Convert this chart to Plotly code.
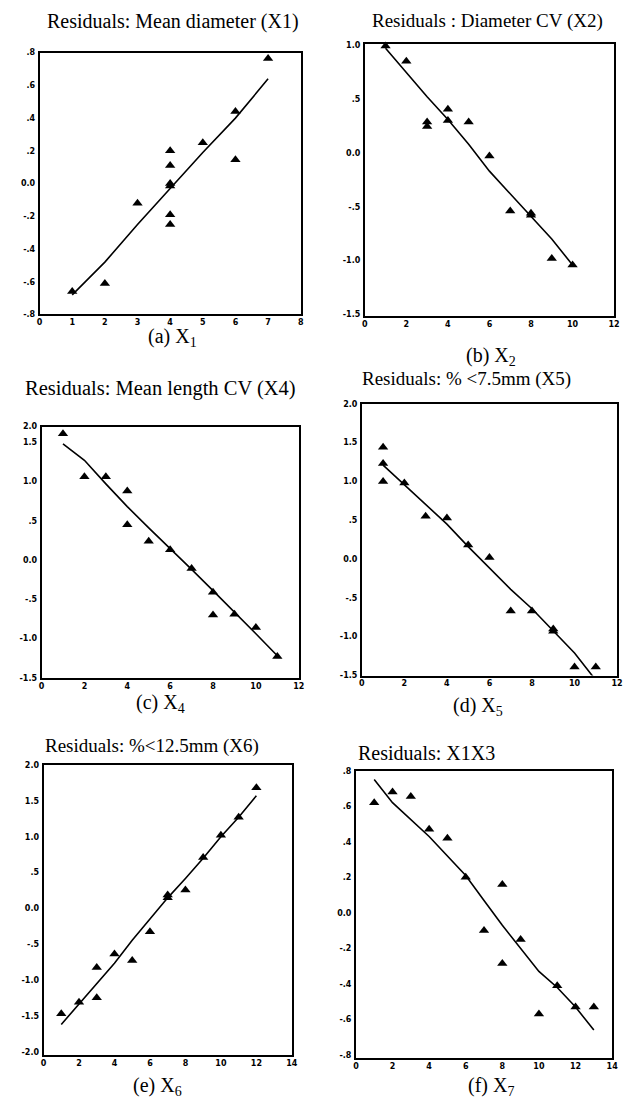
import plotly.graph_objects as go

# The page body has an 8px margin, so the figure is drawn 8px in from the window edge.
OFF = 8
W, H = 635 - 2 * OFF, 1112 - 2 * OFF

# ---------------- data ----------------
# (a) Residuals: Mean diameter (X1)
a_x = [1, 2, 3, 4, 4, 4, 4, 4, 4, 5, 6, 6, 7]
a_y = [-0.66, -0.61, -0.12, 0.20, 0.11, 0.0, -0.015, -0.19, -0.25, 0.25, 0.44, 0.145, 0.765]
a_fit_x = [1, 2, 3, 4, 5, 6, 7]
a_fit_y = [-0.68, -0.48, -0.25, -0.03, 0.19, 0.40, 0.64]

# (b) Residuals : Diameter CV (X2)
b_x = [1, 2, 3, 3, 4, 4, 5, 6, 7, 8, 8, 9, 10]
b_y = [0.99, 0.85, 0.285, 0.245, 0.405, 0.30, 0.285, -0.03, -0.54, -0.56, -0.58, -0.98, -1.04]
b_fit_x = [1, 2, 3, 4, 5, 6, 7, 8, 9, 10]
b_fit_y = [0.97, 0.74, 0.52, 0.31, 0.08, -0.17, -0.38, -0.58, -0.80, -1.04]

# (c) Residuals: Mean length CV (X4)
c_x = [1, 2, 3, 4, 4, 5, 6, 7, 8, 8, 9, 10, 11]
c_y = [1.61, 1.06, 1.06, 0.88, 0.45, 0.24, 0.13, -0.11, -0.41, -0.70, -0.69, -0.86, -1.23]
c_fit_x = [1, 2, 3, 4, 5, 6, 7, 8, 9, 10, 11]
c_fit_y = [1.48, 1.27, 0.97, 0.68, 0.41, 0.15, -0.12, -0.39, -0.66, -0.94, -1.22]

# (d) Residuals: % <7.5mm (X5)
d_x = [1, 1, 1, 2, 3, 4, 5, 6, 7, 8, 9, 9, 10, 11]
d_y = [1.44, 1.23, 1.00, 0.98, 0.55, 0.53, 0.18, 0.02, -0.67, -0.67, -0.90, -0.93, -1.39, -1.39]
d_fit_x = [1, 2, 3, 4, 5, 6, 7, 8, 9, 10, 11]
d_fit_y = [1.21, 0.96, 0.70, 0.45, 0.16, -0.12, -0.39, -0.64, -0.92, -1.21, -1.56]

# (e) Residuals: %<12.5mm (X6)
e_x = [1, 2, 3, 3, 4, 5, 6, 7, 7, 8, 9, 10, 11, 12]
e_y = [-1.46, -1.30, -0.82, -1.24, -0.63, -0.72, -0.32, 0.15, 0.19, 0.26, 0.71, 1.02, 1.27, 1.68]
e_fit_x = [1, 2, 3, 4, 5, 6, 7, 8, 9, 10, 11, 12]
e_fit_y = [-1.61, -1.33, -1.04, -0.76, -0.44, -0.15, 0.15, 0.42, 0.70, 1.00, 1.27, 1.57]

# (f) Residuals: X1X3
f_x = [1, 2, 3, 4, 5, 6, 7, 8, 8, 9, 10, 11, 12, 13]
f_y = [0.62, 0.68, 0.655, 0.47, 0.42, 0.20, -0.10, 0.16, -0.285, -0.15, -0.57, -0.41, -0.53, -0.53]
f_fit_x = [1, 2, 4, 6, 7, 8, 10, 11, 12, 13]
f_fit_y = [0.75, 0.62, 0.43, 0.21, 0.07, -0.07, -0.33, -0.42, -0.53, -0.66]

titles = ["Residuals: Mean diameter (X1)", "Residuals : Diameter CV (X2)",
          "Residuals: Mean length CV (X4)", "Residuals: % <7.5mm (X5)",
          "Residuals: %<12.5mm (X6)", "Residuals: X1X3"]
captions = ["(a) X<sub>1</sub>", "(b) X<sub>2</sub>", "(c) X<sub>4</sub>",
            "(d) X<sub>5</sub>", "(e) X<sub>6</sub>", "(f) X<sub>7</sub>"]

a_yticks = [-0.8, -0.6, -0.4, -0.2, 0.0, 0.2, 0.4, 0.6, 0.8]
b_yticks = [-1.5, -1.0, -0.5, 0.0, 0.5, 1.0]
c_yticks = [-1.5, -1.0, -0.5, 0.0, 0.5, 1.0, 1.5]
d_yticks = [-1.5, -1.0, -0.5, 0.0, 0.5, 1.0, 1.5, 2.0]
e_yticks = [-2.0, -1.5, -1.0, -0.5, 0.0, 0.5, 1.0, 1.5, 2.0]
f_yticks = [-0.8, -0.6, -0.4, -0.2, 0.0, 0.2, 0.4, 0.6, 0.8]
# panel (c) prints its top label "2.0" right at the frame's upper edge
c_top_label = "2.0"

a_xticks = [0, 1, 2, 3, 4, 5, 6, 7, 8]
b_xticks = [0, 2, 4, 6, 8, 10, 12]
c_xticks = [0, 2, 4, 6, 8, 10, 12]
d_xticks = [0, 2, 4, 6, 8, 10, 12]
e_xticks = [0, 2, 4, 6, 8, 10, 12, 14]
f_xticks = [0, 2, 4, 6, 8, 10, 12, 14]

# ---------------- layout geometry (window pixels) ----------------
panels = [
    dict(box=(37, 302, 49, 313), xr=[0, 8], yr=[-0.8, 0.8], t=(172, 18), ts=20, c=(172, 336)),
    dict(box=(367, 620, 40, 315), xr=[0, 12], yr=[-1.518, 1.012], t=(492, 17), ts=19, c=(495, 355)),
    dict(box=(39, 300, 426, 680), xr=[0, 12], yr=[-1.51, 1.70], t=(160, 388), ts=20.5, c=(160, 705)),
    dict(box=(364, 623, 403, 677), xr=[0, 12], yr=[-1.5, 2.0], t=(470, 378), ts=19, c=(482, 708)),
    dict(box=(41, 293, 767, 1060), xr=[0, 14], yr=[-2.04, 2.0], t=(151, 748), ts=19, c=(157, 1091)),
    dict(box=(358, 618, 773, 1063), xr=[0, 14], yr=[-0.819, 0.80], t=(430, 755), ts=20, c=(495, 1091)),
]

series = [(a_x, a_y, a_fit_x, a_fit_y, a_xticks, a_yticks),
          (b_x, b_y, b_fit_x, b_fit_y, b_xticks, b_yticks),
          (c_x, c_y, c_fit_x, c_fit_y, c_xticks, c_yticks),
          (d_x, d_y, d_fit_x, d_fit_y, d_xticks, d_yticks),
          (e_x, e_y, e_fit_x, e_fit_y, e_xticks, e_yticks),
          (f_x, f_y, f_fit_x, f_fit_y, f_xticks, f_yticks)]


def px_x(v):
    return (v - OFF) / W


def px_y(v):
    return 1 - (v - OFF) / H


def ylab(v):
    if abs(v) < 1e-9:
        return "0.0"
    s = f"{v:.1f}"
    if abs(v) < 1:
        s = s.replace("0.", ".")
    return s


fig = go.Figure()
layout = dict(width=W, height=H, margin=dict(l=0, r=0, t=0, b=0, pad=0),
              paper_bgcolor="white", plot_bgcolor="white", showlegend=False)
annotations = []
tickfont = dict(family="DejaVu Sans", size=8, color="black", weight="bold")

for i, (p, s) in enumerate(zip(panels, series)):
    n = "" if i == 0 else str(i + 1)
    xs, ys, fx, fy, xt, yt = s
    x0, x1, y0, y1 = p["box"]
    yvals = list(yt)
    ytext = [ylab(v) for v in yt]
    if i == 2:
        yvals.append(p["yr"][1])
        ytext.append(c_top_label)
    fig.add_trace(go.Scatter(x=fx, y=fy, mode="lines", xaxis="x" + n, yaxis="y" + n,
                             line=dict(color="black", width=1.6), hoverinfo="skip"))
    fig.add_trace(go.Scatter(x=xs, y=ys, mode="markers", xaxis="x" + n, yaxis="y" + n,
                             marker=dict(symbol="triangle-up", size=9, color="black"),
                             cliponaxis=False))
    layout["xaxis" + n] = dict(domain=[px_x(x0), px_x(x1)], range=p["xr"], anchor="y" + n,
                               showgrid=False, zeroline=False, showline=True, mirror=True,
                               linecolor="black", linewidth=1.8, ticks="",
                               tickvals=xt, ticktext=[str(v) for v in xt],
                               tickfont=tickfont, ticklabelstandoff=-1)
    layout["yaxis" + n] = dict(domain=[px_y(y1), px_y(y0)], range=p["yr"], anchor="x" + n,
                               showgrid=False, zeroline=False, showline=True, mirror=True,
                               linecolor="black", linewidth=1.8, ticks="",
                               tickvals=yvals, ticktext=ytext,
                               tickfont=tickfont, ticklabelstandoff=1)
    tx, ty = p["t"]
    annotations.append(dict(text=titles[i], x=px_x(tx), y=px_y(ty), xref="paper", yref="paper",
                            showarrow=False, xanchor="center", yanchor="middle",
                            font=dict(family="Liberation Serif", size=p["ts"], color="black")))
    cx, cy = p["c"]
    annotations.append(dict(text=captions[i], x=px_x(cx), y=px_y(cy), xref="paper", yref="paper",
                            showarrow=False, xanchor="center", yanchor="middle",
                            font=dict(family="Liberation Serif", size=20, color="black")))

layout["annotations"] = annotations
fig.update_layout(**layout)
fig.write_html("out.html")
